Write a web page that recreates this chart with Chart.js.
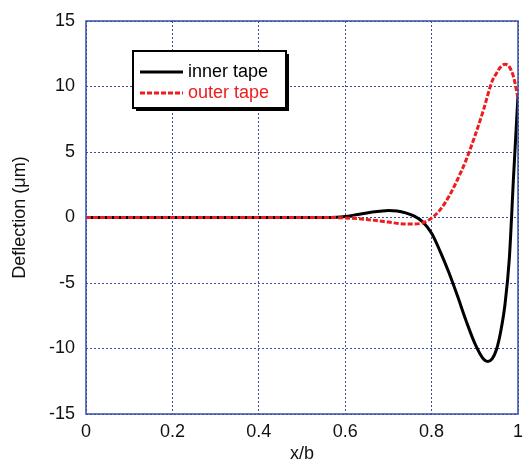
<!DOCTYPE html>
<html>
<head>
<meta charset="utf-8">
<script src="https://cdn.jsdelivr.net/npm/chart.js@4.4.0/dist/chart.umd.min.js"></script>
<style>
  html, body { margin: 0; padding: 0; background: #fff; }
  #wrap { width: 525px; height: 465px; }
</style>
</head>
<body>
<div id="wrap"><canvas id="myChart" width="525" height="465"></canvas></div>
<script>
// x/b positions and deflections (um)
var xInner = [0, 0.2, 0.4, 0.5, 0.55, 0.58, 0.6, 0.62, 0.65, 0.68, 0.7, 0.72, 0.74, 0.76, 0.78, 0.8, 0.82, 0.84, 0.86, 0.88, 0.9, 0.92, 0.93, 0.94, 0.95, 0.96, 0.97, 0.98, 0.99, 1.0];
var yInner = [0, 0, 0, 0, 0, 0.02, 0.08, 0.18, 0.35, 0.47, 0.53, 0.5, 0.35, 0.1, -0.35, -1.2, -2.6, -4.2, -6.0, -7.9, -9.6, -10.8, -11.0, -10.8, -10.1, -8.7, -6.6, -3.1, 3.3, 9.3];

var xOuter = [0, 0.2, 0.4, 0.5, 0.55, 0.6, 0.65, 0.7, 0.74, 0.76, 0.78, 0.8, 0.82, 0.84, 0.86, 0.88, 0.9, 0.92, 0.94, 0.95, 0.96, 0.97, 0.98, 0.99, 1.0];
var yOuter = [0, 0, 0, 0, 0, -0.03, -0.15, -0.35, -0.5, -0.5, -0.4, -0.05, 0.6, 1.6, 2.9, 4.4, 6.2, 8.2, 10.4, 11.0, 11.5, 11.7, 11.5, 10.7, 9.1];

var xTicks = [0, 0.2, 0.4, 0.6, 0.8, 1];
var yTicks = [-15, -10, -5, 0, 5, 10, 15];

function pairs(xs, ys) {
    return xs.map(function(x, i) { return {x: x, y: ys[i]}; });
}

var gridBlue = '#3a4ea8';
var fontFam = '"Liberation Sans", Arial, sans-serif';

// legend box drawn inside the plot, like the original
var boxLegend = {
    id: 'boxLegend',
    afterDraw: function(chart) {
        var ctx = chart.ctx;
        var x0 = 133, y0 = 51, w = 153, h = 57;
        ctx.save();
        ctx.fillStyle = '#000';
        ctx.fillRect(x0 + 3, y0 + 3, w, h);
        ctx.fillStyle = '#fff';
        ctx.fillRect(x0, y0, w, h);
        ctx.strokeStyle = '#000';
        ctx.lineWidth = 2;
        ctx.strokeRect(x0, y0, w, h);
        ctx.font = '18px ' + fontFam;
        ctx.textBaseline = 'middle';
        chart.data.datasets.forEach(function(ds, i) {
            var yy = y0 + 21 + i * 21;
            ctx.strokeStyle = ds.borderColor;
            ctx.lineWidth = 3;
            ctx.setLineDash(ds.borderDash || []);
            ctx.beginPath();
            ctx.moveTo(x0 + 7, yy);
            ctx.lineTo(x0 + 50, yy);
            ctx.stroke();
            ctx.setLineDash([]);
            ctx.fillStyle = ds.borderColor;
            ctx.fillText(ds.label, x0 + 55, yy);
        });
        ctx.restore();
    }
};

// solid frame round the plot area
var frame = {
    id: 'frame',
    afterDatasetsDraw: function(chart) {
        var a = chart.chartArea, ctx = chart.ctx;
        ctx.save();
        ctx.strokeStyle = gridBlue;
        ctx.lineWidth = 1.5;
        ctx.strokeRect(a.left, a.top, a.right - a.left, a.bottom - a.top);
        ctx.restore();
    }
};

var ctx = document.getElementById('myChart');
var chart = new Chart(ctx, {
    type: 'line',
    data: {
        datasets: [{
            label: 'inner tape',
            data: pairs(xInner, yInner),
            borderColor: '#000000',
            borderWidth: 3,
            pointRadius: 0,
            cubicInterpolationMode: 'monotone',
            fill: false,
            order: 2
        }, {
            label: 'outer tape',
            data: pairs(xOuter, yOuter),
            borderColor: '#ee1c1c',
            borderWidth: 3,
            borderDash: [5, 2],
            pointRadius: 0,
            cubicInterpolationMode: 'monotone',
            fill: false,
            order: 1
        }]
    },
    options: {
        responsive: false,
        animation: false,
        layout: { padding: { top: 21, right: 7, left: 0, bottom: 0 } },
        plugins: { legend: { display: false }, tooltip: { enabled: false } },
        scales: {
            x: {
                type: 'linear',
                min: 0, max: 1,
                afterBuildTicks: function(scale) {
                    scale.ticks = xTicks.map(function(v) { return {value: v}; });
                },
                afterFit: function(scale) {
                    scale.height = 51;
                    scale.paddingLeft = 0;
                    scale.paddingRight = 0;
                },
                grid: { color: gridBlue, lineWidth: 1, drawTicks: false },
                border: { display: false, dash: [2, 2] },
                ticks: {
                    color: '#111', font: { size: 18, family: fontFam }, padding: 7, maxRotation: 0,
                    callback: function(v) { return String(v); }
                },
                title: { display: true, text: 'x/b', color: '#111', font: { size: 18, family: fontFam }, padding: { top: 0, bottom: 0 } }
            },
            y: {
                min: -15, max: 15,
                afterBuildTicks: function(scale) {
                    scale.ticks = yTicks.map(function(v) { return {value: v}; });
                },
                afterFit: function(scale) {
                    scale.width = 86;
                    scale.paddingTop = 0;
                    scale.paddingBottom = 0;
                },
                grid: { color: gridBlue, lineWidth: 1, drawTicks: false },
                border: { display: false, dash: [2, 2] },
                ticks: { color: '#111', font: { size: 18, family: fontFam }, padding: 11 },
                title: { display: true, text: 'Deflection (\u03bcm)', color: '#111', font: { size: 18, family: fontFam }, padding: { top: 9, bottom: 0 } }
            }
        }
    },
    plugins: [frame, boxLegend]
});
</script>
</body>
</html>
